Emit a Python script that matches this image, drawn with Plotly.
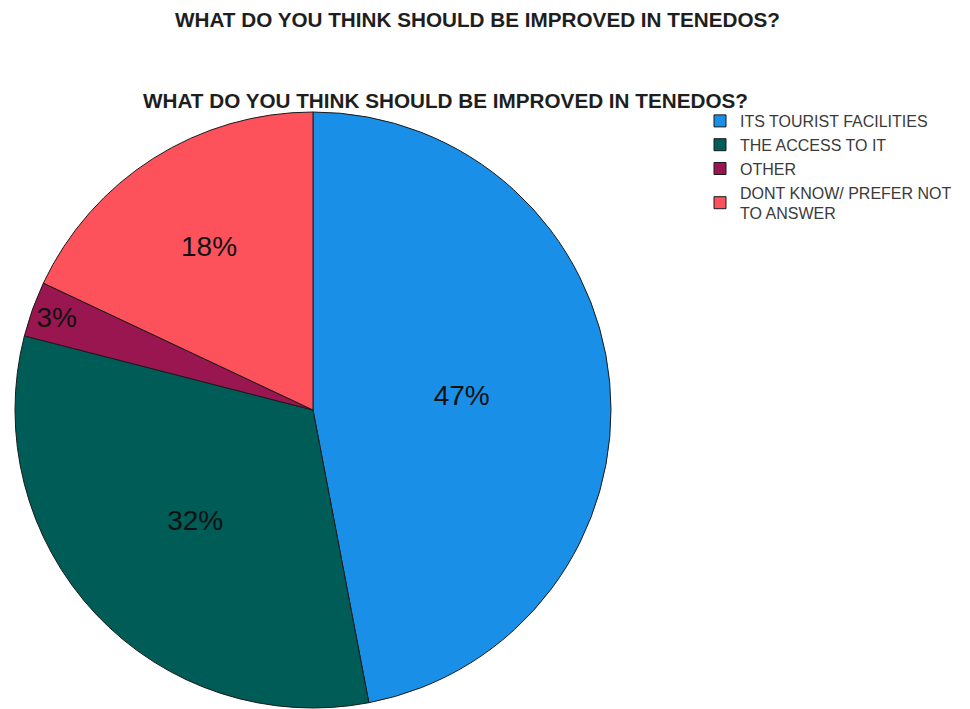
import plotly.graph_objects as go

# Survey answers: share of respondents per option (percent)
labels = [
    "ITS TOURIST FACILITIES",
    "THE ACCESS TO IT",
    "OTHER",
    "DONT KNOW/ PREFER NOT<br>TO ANSWER",
]
values = [47, 32, 3, 18]
colors = ["#1a8fe8", "#005c57", "#9a1650", "#fd515c"]

title_text = "WHAT DO YOU THINK SHOULD BE IMPROVED IN TENEDOS?"

W, H = 970, 709

fig = go.Figure(
    go.Pie(
        labels=labels,
        values=values,
        sort=False,
        direction="clockwise",
        rotation=0,
        marker=dict(colors=colors, line=dict(color="#1a1a1a", width=1)),
        texttemplate="%{percent:.0%}",
        textposition="inside",
        insidetextorientation="horizontal",
        textfont=dict(family="Liberation Sans, Arial, sans-serif", size=28, color="#111111"),
        hoverinfo="label+percent",
        domain=dict(x=[14 / W, 612 / W], y=[1 / H, 1 - 112 / H]),
    )
)

title_font = dict(family="Liberation Sans, Arial, sans-serif", size=20.7, color="#1e1e1e")
fig.add_annotation(
    text=f"<b>{title_text}</b>", x=477 / W, y=1 - 20 / H,
    xref="paper", yref="paper", xanchor="center", yanchor="middle",
    showarrow=False, font=title_font,
)
fig.add_annotation(
    text=f"<b>{title_text}</b>", x=445 / W, y=1 - 100 / H,
    xref="paper", yref="paper", xanchor="center", yanchor="middle",
    showarrow=False, font=title_font,
)

fig.update_layout(
    width=W,
    height=H,
    margin=dict(l=0, r=0, t=0, b=0),
    paper_bgcolor="white",
    plot_bgcolor="white",
    showlegend=True,
    legend=dict(
        x=700 / W, y=1 - 104 / H, xanchor="left", yanchor="top",
        font=dict(family="Liberation Sans, Arial, sans-serif", size=16, color="#3a3a3a"),
        bgcolor="rgba(0,0,0,0)",
        itemclick=False,
        tracegroupgap=0,
    ),
)

fig.write_html("out.html")
